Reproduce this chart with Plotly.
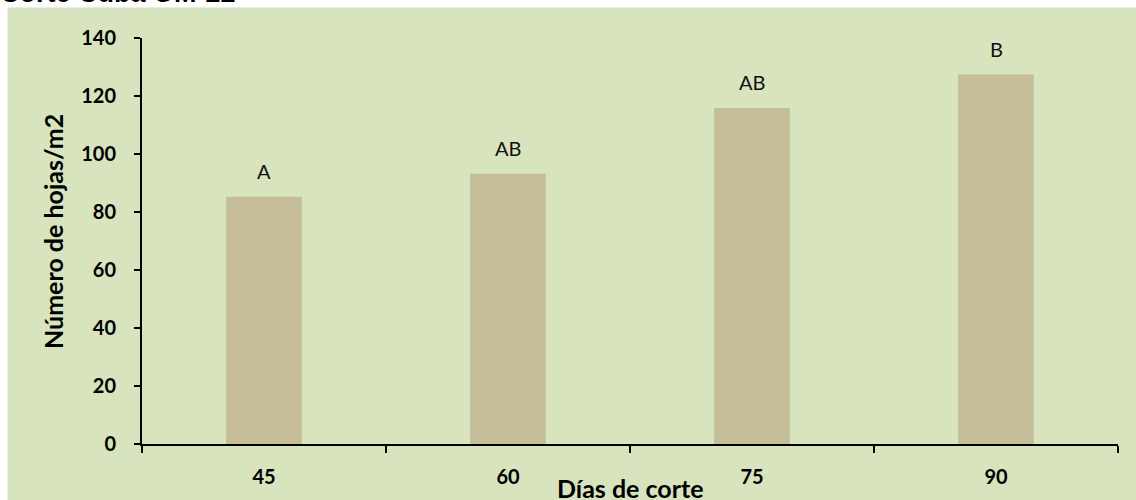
import plotly.graph_objects as go

categories = ["45", "60", "75", "90"]
values = [85.3, 93.2, 115.9, 127.4]
letters = ["A", "AB", "AB", "B"]
y_ticks = [0, 20, 40, 60, 80, 100, 120, 140]

title_text = "Corte Cuba OM-22"
x_title = "Días de corte"
y_title = "Número de hojas/m2"

W, H = 1136, 500
L, R, T, B = 142, 18, 38, 56
pw, ph = W - L - R, H - T - B

def px_x(px):
    return (px - L) / pw

def px_y(py):
    return (H - B - py) / ph

FONT = "Lato"

fig = go.Figure()
fig.add_trace(go.Bar(
    x=categories, y=values,
    marker=dict(color="#C4BD97", line=dict(width=0)),
    width=0.31,
    hoverinfo="x+y",
))

annotations = []
for i, (v, lab) in enumerate(zip(values, letters)):
    annotations.append(dict(
        x=i, y=v, xref="x", yref="y", text=lab, showarrow=False,
        xanchor="center", yanchor="bottom", yshift=12,
        font=dict(family=FONT, size=20, color="#111111"),
    ))

annotations.append(dict(
    x=px_x(630), y=px_y(488), xref="paper", yref="paper", text=f"<b>{x_title}</b>",
    showarrow=False, xanchor="center", yanchor="middle",
    font=dict(family=FONT, size=25, color="#000000"),
))
annotations.append(dict(
    x=px_x(53), y=px_y(232), xref="paper", yref="paper", text=f"<b>{y_title}</b>",
    showarrow=False, xanchor="center", yanchor="middle", textangle=-90,
    font=dict(family=FONT, size=25, color="#000000"),
))
annotations.append(dict(
    x=px_x(0), y=px_y(10), xref="paper", yref="paper", text=f"<b>{title_text}</b>",
    showarrow=False, xanchor="left", yanchor="bottom", xshift=-2,
    font=dict(family="Liberation Sans", size=27, color="#000000"),
))

shapes = [dict(
    type="rect", xref="paper", yref="paper", layer="below",
    x0=px_x(8), x1=px_x(W + 20), y0=px_y(8), y1=px_y(H + 20),
    fillcolor="#D7E4BD", line=dict(color="#D9D9D9", width=1),
)]

fig.update_layout(
    width=W, height=H,
    margin=dict(l=L, r=R, t=T, b=B, pad=0),
    paper_bgcolor="#FFFFFF",
    plot_bgcolor="#DDD9C3",
    showlegend=False,
    annotations=annotations,
    shapes=shapes,
    bargap=0.69,
)
fig.update_xaxes(
    type="category",
    showline=True, linecolor="#000000", linewidth=2,
    ticks="outside", ticklen=7, tickwidth=2, tickcolor="#000000",
    tickson="boundaries",
    showgrid=False, zeroline=False,
    tickfont=dict(family=FONT, size=20, color="#000000", weight="bold"),
    ticklabelstandoff=14,
    range=[-0.5, 3.5],
)
fig.update_yaxes(
    range=[0, 140], tickvals=y_ticks,
    showline=True, linecolor="#000000", linewidth=2,
    ticks="outside", ticklen=6, tickwidth=2, tickcolor="#000000",
    showgrid=False, zeroline=False,
    tickfont=dict(family=FONT, size=20, color="#000000", weight="bold"),
    ticklabelstandoff=14,
)

fig.write_html("out.html")
